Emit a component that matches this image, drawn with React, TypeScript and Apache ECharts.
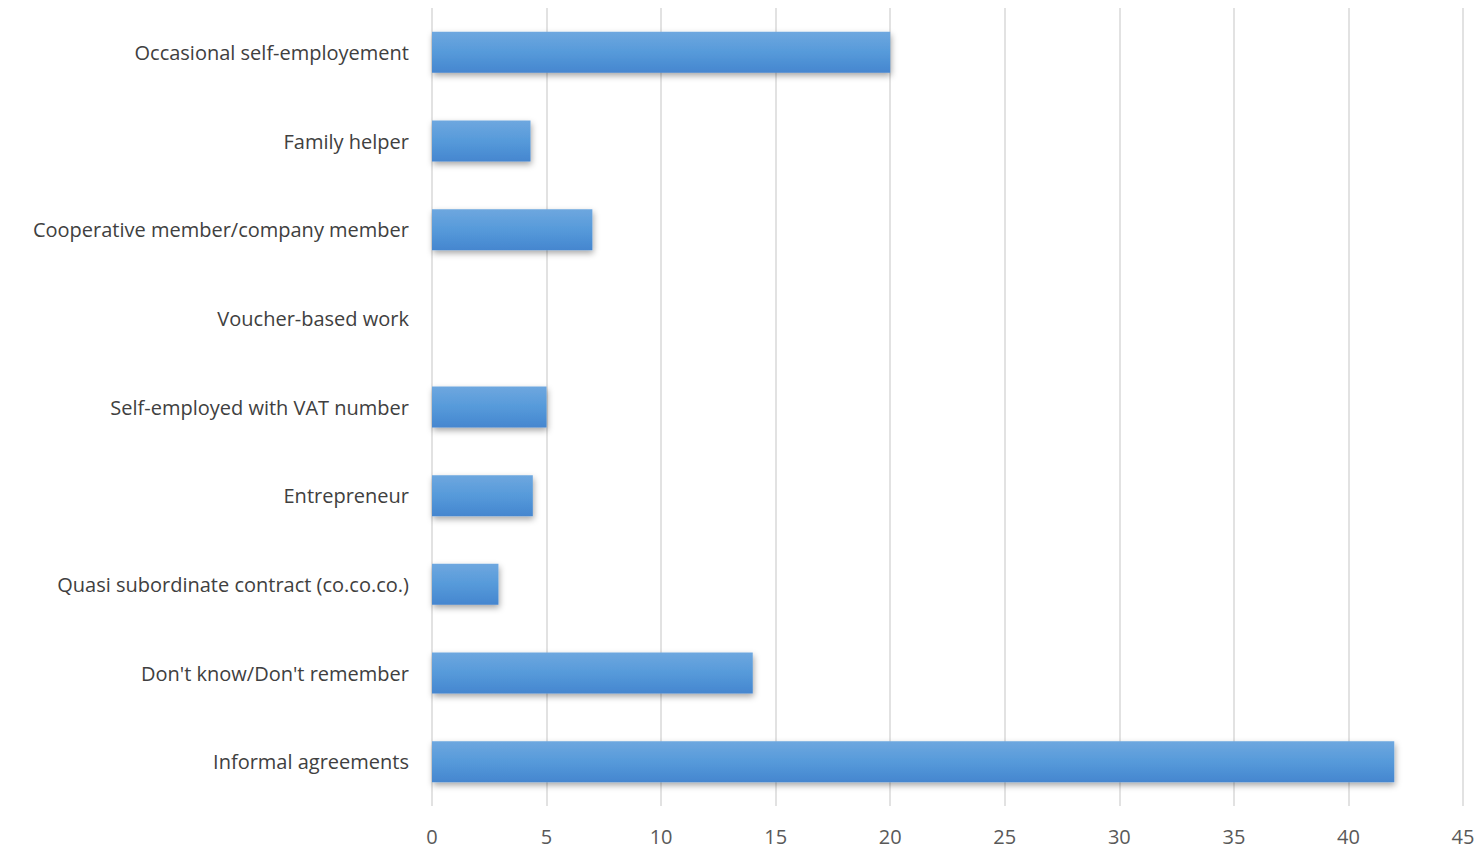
import React, { useEffect, useRef } from "react";
import * as echarts from "echarts";

const categories = [
  "Informal agreements",
  "Don't know/Don't remember",
  "Quasi subordinate contract (co.co.co.)",
  "Entrepreneur",
  "Self-employed with VAT number",
  "Voucher-based work",
  "Cooperative member/company member",
  "Family helper",
  "Occasional self-employement",
];
const values = [42, 14, 2.9, 4.4, 5, 0, 7, 4.3, 20];
const xTicks = { min: 0, max: 45, interval: 5 };

export default function App() {
  const ref = useRef<HTMLDivElement>(null);
  useEffect(() => {
    const chart = echarts.init(ref.current!, null, { renderer: "svg" });
    chart.setOption({
      animation: false,
      backgroundColor: "#ffffff",
      grid: { left: 432, right: 18, top: 8, bottom: 43, containLabel: false },
      xAxis: {
        type: "value",
        min: xTicks.min,
        max: xTicks.max,
        interval: xTicks.interval,
        axisLine: { show: false },
        axisTick: { show: false },
        splitLine: { show: true, lineStyle: { color: "#d9d9d9", width: 1.5 } },
        axisLabel: {
          color: "#595959",
          fontSize: 20,
          fontFamily: "Open Sans",
          margin: 20,
        },
      },
      yAxis: {
        type: "category",
        data: categories,
        axisLine: { show: false },
        axisTick: { show: false },
        axisLabel: {
          color: "#404040",
          fontSize: 20,
          fontFamily: "Open Sans",
          margin: 23,
        },
      },
      series: [
        {
          type: "bar",
          data: values,
          barWidth: 41,
          itemStyle: {
            color: new echarts.graphic.LinearGradient(0, 0, 0, 1, [
              { offset: 0, color: "#6ea7df" },
              { offset: 0.5, color: "#569ada" },
              { offset: 1, color: "#4586cf" },
            ]),
            shadowColor: "rgba(0,0,0,0.35)",
            shadowBlur: 6,
            shadowOffsetX: 1,
            shadowOffsetY: 3,
          },
        },
      ],
    });
    return () => chart.dispose();
  }, []);
  return (
    <div
      ref={ref}
      style={{ position: "absolute", left: 0, top: 0, width: 1481, height: 849 }}
    />
  );
}
